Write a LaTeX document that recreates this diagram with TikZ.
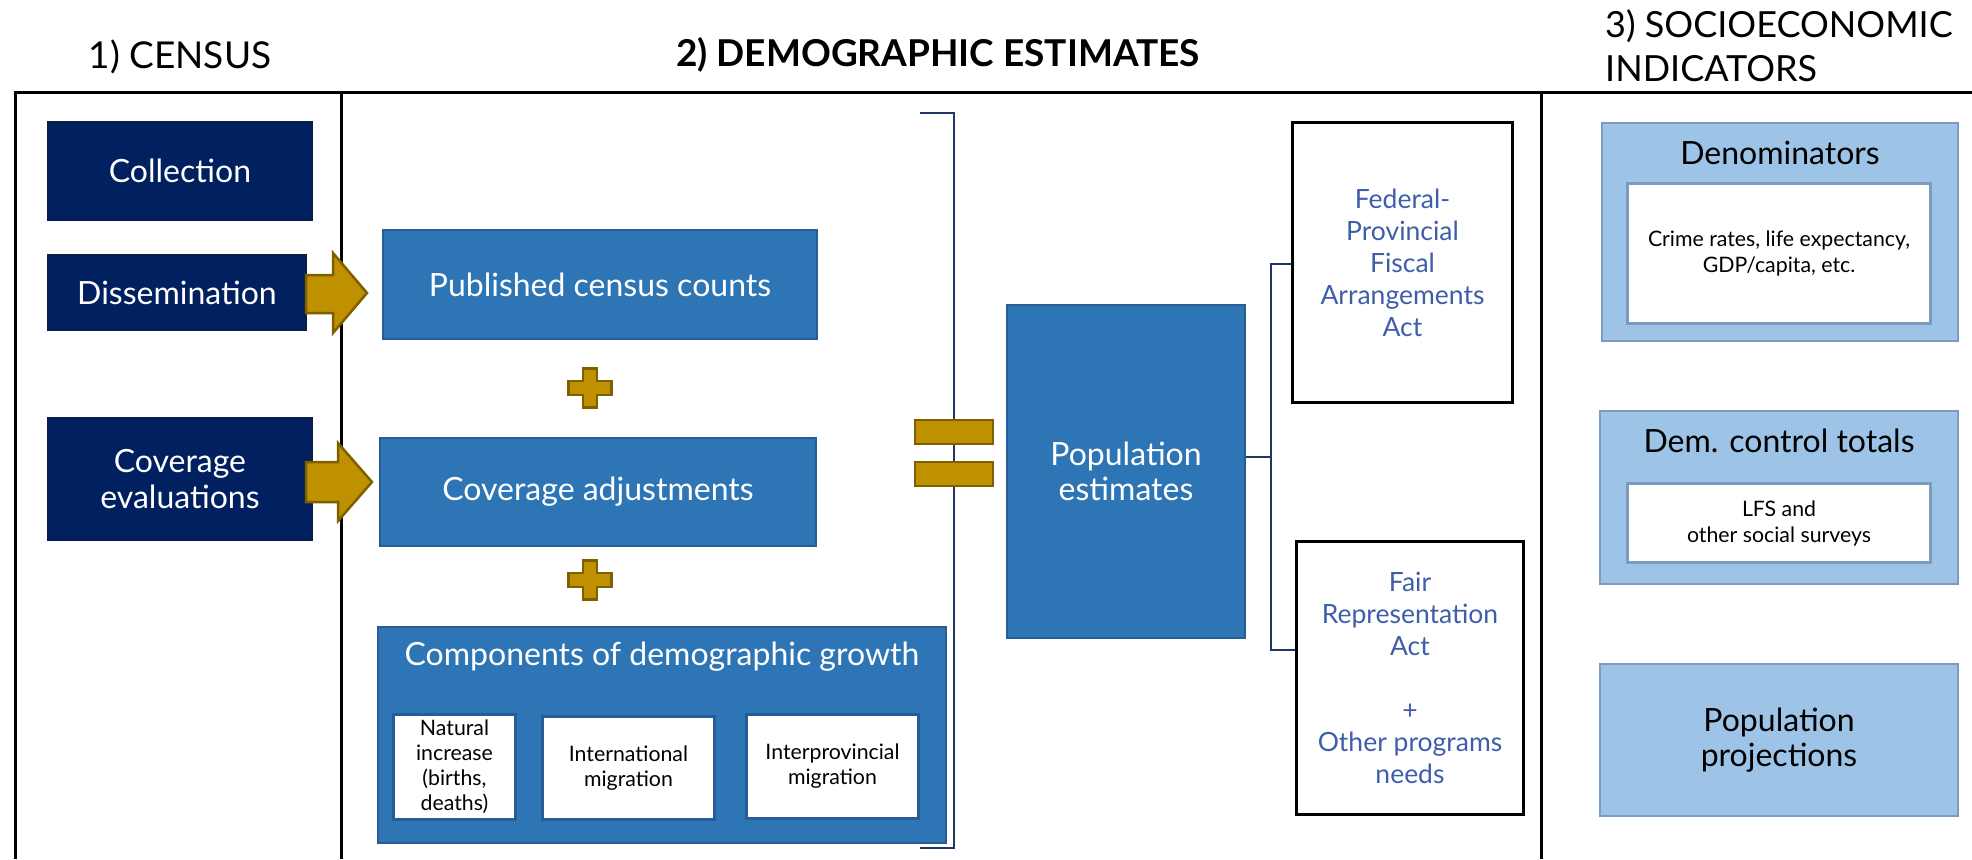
\documentclass[tikz,border=0pt]{standalone}
\usepackage{fontspec}
\setmainfont{Lato}
\usetikzlibrary{calc}
\definecolor{navy}{RGB}{0,32,96}
\definecolor{navyedge}{RGB}{10,30,75}
\definecolor{midblue}{RGB}{46,117,182}
\definecolor{midedge}{RGB}{40,92,148}
\definecolor{gold}{RGB}{191,144,0}
\definecolor{goldedge}{RGB}{127,96,0}
\definecolor{lightblue}{RGB}{157,195,230}
\definecolor{lightedge}{RGB}{125,155,190}
\definecolor{actblue}{RGB}{62,94,170}
\definecolor{linkblue}{RGB}{31,56,100}
\begin{document}
\begin{tikzpicture}[x=1pt,y=-1pt,
  base/.style={rectangle, inner sep=0pt, align=center},
  bigtext/.style={font=\fontsize{32}{35.5}\selectfont},
  censusbox/.style={base, fill=navy, draw=navyedge, line width=2pt, text=white, bigtext},
  estbox/.style={base, fill=midblue, draw=midedge, line width=2pt, text=white, bigtext},
  compbox/.style={base, fill=white, draw=midedge, line width=3pt, font=\fontsize{21.3}{25}\selectfont},
  actbox/.style={base, fill=white, draw=black, line width=3.5pt, text=actblue, font=\fontsize{26.5}{32}\selectfont},
  indbox/.style={base, fill=lightblue, draw=lightedge, line width=2.5pt},
  innerbox/.style={base, fill=white, draw=lightedge, line width=3pt, font=\fontsize{21.3}{26}\selectfont},
  boxtitle/.style={inner sep=0pt, bigtext},
  goldshape/.style={fill=gold, draw=goldedge, line width=2.5pt, line join=miter},
  link/.style={draw=linkblue, line width=2pt},
  frameline/.style={draw=black, line width=3pt},
  title/.style={inner sep=0pt, font=\fontsize{37}{44}\selectfont}
]
\useasboundingbox (0,0) rectangle (1972,859);

% frame
\draw[frameline] (1972,92) -- (15,92) -- (15,859);
\draw[frameline] (341,92) -- (341,859);
\draw[frameline] (1541,92) -- (1541,859);

% titles
\node[title] (t1) at (180,57) {1) CENSUS};
\node[title, font=\fontsize{37}{44}\selectfont\bfseries] (t2) at (938,55) {2) DEMOGRAPHIC ESTIMATES};
\node[title, font=\fontsize{36}{44}\selectfont, anchor=west, align=left] (t3) at (1605,46) {3) SOCIOECONOMIC\\INDICATORS};

% census column
\node[censusbox, minimum width=264pt, minimum height=98pt] (col) at (180,171) {Collection};
\node[censusbox, minimum width=258pt, minimum height=75pt] (dis) at (177,292.5) {Dissemination};
\node[censusbox, minimum width=264pt, minimum height=122pt] (cev) at (180,479) {Coverage\\evaluations};

% demographic estimates
\node[estbox, minimum width=434pt, minimum height=109pt] (pub) at (600,284.5) {Published census counts};
\node[estbox, minimum width=436pt, minimum height=108pt] (cad) at (598,492) {Coverage adjustments};
\node[estbox, minimum width=568pt, minimum height=216pt] (comp) at (662,735) {};
\node[boxtitle, text=white] (compt) at (662,657) {Components of demographic growth};
\node[compbox, minimum width=122pt, minimum height=105pt] (nat) at (454.5,767) {Natural\\increase\\(births,\\deaths)};
\node[compbox, minimum width=172pt, minimum height=103pt] (intl) at (628.5,768) {International\\migration};
\node[compbox, minimum width=172pt, minimum height=104pt] (inter) at (832.5,766.5) {Interprovincial\\migration};

% block arrows
\path[goldshape] (306,275) -- (333,275) -- (333,253) -- (367,293) -- (333,333) -- (333,313) -- (306,313) -- cycle;
\path[goldshape] (306,462) -- (338,462) -- (338,443) -- (372,482) -- (338,521) -- (338,502) -- (306,502) -- cycle;

% plus signs
\foreach \cy in {388,580}{
  \path[goldshape, shift={(590,\cy)}] (-7,-19.5) -- ++(14,0) -- ++(0,12.5) -- ++(14.5,0) -- ++(0,14) -- ++(-14.5,0) -- ++(0,12.5) -- ++(-14,0) -- ++(0,-12.5) -- ++(-14.5,0) -- ++(0,-14) -- ++(14.5,0) -- cycle;
}

% bracket and equals
\coordinate (brt) at (954,113);
\coordinate (brb) at (954,848);
\draw[link] ($(brt)+(-34,0)$) -- (brt) -- (brb) -- ($(brb)+(-34,0)$);
\node[goldshape, rectangle, inner sep=0pt, minimum width=78pt, minimum height=24pt] (eq1) at (954,432) {};
\node[goldshape, rectangle, inner sep=0pt, minimum width=78pt, minimum height=24pt] (eq2) at (954,474) {};

% population estimates and acts
\node[estbox, minimum width=238pt, minimum height=333pt] (pop) at (1126,471.5) {Population\\estimates};
\node[actbox, minimum width=220pt, minimum height=280pt] (fed) at (1402.5,262.5) {Federal-\\Provincial\\Fiscal\\Arrangements\\Act};
\node[actbox, minimum width=227pt, minimum height=273pt] (fair) at (1410,678) {Fair\\Representation\\Act\\[32pt]+\\Other programs\\needs};

\coordinate (jm) at (1271,457);
\coordinate (jt) at (1271,264);
\coordinate (jb) at (1271,650);
\draw[link] (jm -| pop.east) -- (jm);
\draw[link] (jt -| fed.west) -- (jt) -- (jb) -- (jb -| fair.west);

% socioeconomic indicators
\node[indbox, minimum width=356pt, minimum height=218pt] (den) at (1780,232) {};
\node[boxtitle] (dent) at (1780,153) {Denominators};
\node[innerbox, minimum width=303pt, minimum height=140pt] (deni) at (1779,253.5) {Crime rates, life expectancy,\\GDP/capita, etc.};
\node[indbox, minimum width=358pt, minimum height=173pt] (dem) at (1779,497.5) {};
\node[boxtitle] (demt) at (1779,441) {Dem. control totals};
\node[innerbox, minimum width=303pt, minimum height=79pt] (demi) at (1779,523) {LFS and\\other social surveys};
\node[indbox, minimum width=358pt, minimum height=152pt, bigtext] (proj) at (1779,740) {Population\\projections};
\end{tikzpicture}
\end{document}
